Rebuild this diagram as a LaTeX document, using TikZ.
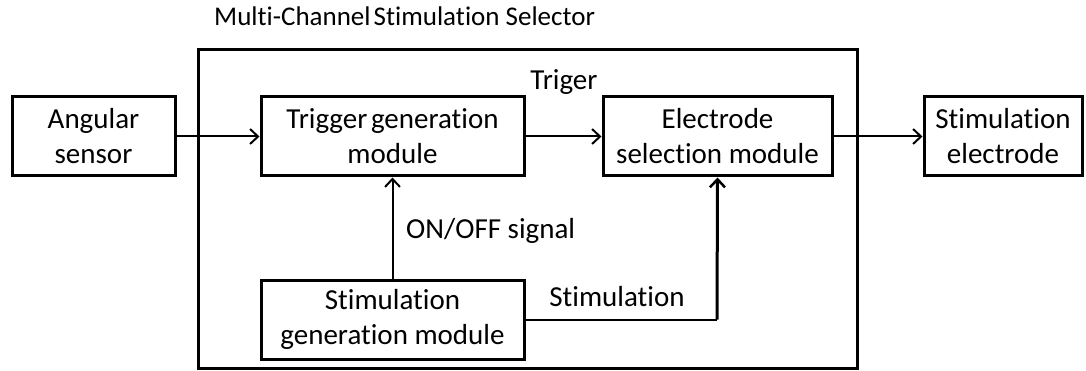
\documentclass[tikz,border=0pt]{standalone}
\usepackage{fontspec}
\setmainfont{Carlito}[Ligatures={NoCommon,NoContextual}]
\usetikzlibrary{arrows.meta}
\tikzset{
  blk/.style={draw, line width=3pt, align=center, inner sep=0pt, font=\fontsize{29}{35}\selectfont},
  lbl/.style={inner sep=0pt, font=\fontsize{29}{35}\selectfont},
  conn/.style={line width=2pt, -{Straight Barb[length=8pt, width=15pt, line width=2pt]}},
  thickconn/.style={line width=3pt, -{Straight Barb[length=8pt, width=15pt, line width=2.5pt]}}
}
\begin{document}
\begin{tikzpicture}[x=1pt, y=-1pt]
\useasboundingbox (0,0) rectangle (1086,371);
\node[draw, line width=3pt, minimum width=659pt, minimum height=318pt, inner sep=0pt] (mcs) at (527.5,209) {};
\node[lbl, anchor=west, font=\fontsize{27}{33}\selectfont] (title) at (214,16) {Multi-Channel\hspace{-3pt} Stimulation Selector};
\node[blk, minimum width=163pt, minimum height=79pt] (ang) at (93.5,136.5) {Angular\\sensor};
\node[blk, minimum width=263pt, minimum height=79pt] (trg) at (392.5,136.5) {Trigger\hspace{-3pt} generation\\module};
\node[blk, minimum width=229pt, minimum height=79pt] (ele) at (717.5,136.5) {Electrode\\selection module};
\node[blk, minimum width=158pt, minimum height=79pt] (se) at (1003,136.5) {Stimulation\\electrode};
\node[blk, minimum width=263pt, minimum height=79pt] (sg) at (392.5,319.5) {Stimulation\\generation module};
\node[lbl] (trlbl) at (564,82) {Triger};
\node[lbl, anchor=west] (onoff) at (406,231) {ON/OFF signal};
\node[lbl] (stlbl) at (617,297) {Stimulation};
\draw[conn] (ang.east) -- (trg.west);
\draw[conn] (trg.east) -- (ele.west);
\draw[conn] (ele.east) -- (se.west);
\draw[conn] (sg.north) -- (trg.south);
\draw[line width=2pt] (sg.east) -- (717,319.5) coordinate (corner);
\draw[thickconn] (corner) -- (ele.south);
\end{tikzpicture}
\end{document}
